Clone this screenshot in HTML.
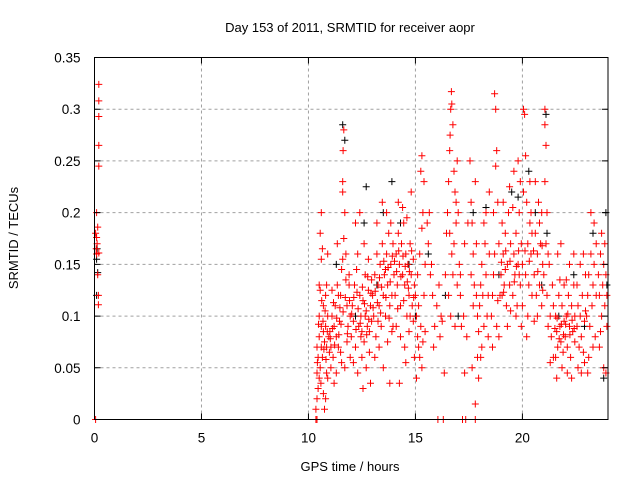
<!DOCTYPE html>
<html><head><meta charset="utf-8"><style>
body{margin:0;background:#fff}
svg{display:block;font-family:"Liberation Sans",sans-serif}
</style></head><body>
<svg id="chart" width="640" height="480" xmlns="http://www.w3.org/2000/svg">
<rect width="640" height="480" fill="#fff"/>
<g id="grid"></g>
<g id="black"></g>
<g id="red"></g>
<g id="axes"></g>
<text x="350" y="32" text-anchor="middle" font-size="13" fill="#000">Day 153 of 2011, SRMTID for receiver aopr</text>
<text x="350" y="471" text-anchor="middle" font-size="13" fill="#000">GPS time / hours</text>
<text x="18" y="238" text-anchor="middle" font-size="13" fill="#000" transform="rotate(-90 18 238)">SRMTID / TECUs</text>
</svg>
<script>
const xTicks = [0,5,10,15,20];
const yTicks = [0,0.05,0.1,0.15,0.2,0.25,0.3,0.35];
const yTickLabels = ["0","0.05","0.1","0.15","0.2","0.25","0.3","0.35"];
const black = [[0.1,0.155],[0.15,0.142],[0.1,0.12],[0.12,0.165],[11.6,0.285],[11.7,0.27],[12.7,0.225],[12.6,0.19],[13.9,0.23],[13.5,0.2],[14.3,0.19],[15.0,0.1],[15.6,0.16],[16.4,0.12],[17.0,0.1],[17.7,0.2],[18.3,0.205],[19.5,0.22],[19.8,0.215],[20.3,0.24],[20.6,0.2],[21.1,0.295],[21.15,0.18],[21.7,0.1],[22.4,0.14],[22.9,0.09],[23.3,0.18],[23.8,0.04],[23.9,0.2],[23.95,0.13],[11.3,0.15],[12.2,0.1],[13.2,0.13],[14.7,0.15],[18.9,0.14],[20.9,0.13]];
const red = [[0.05,0.0],[0.1,0.2],[0.15,0.186],[0.1,0.176],[0.12,0.17],[0.08,0.165],[0.1,0.16],[0.2,0.161],[0.15,0.14],[0.18,0.12],[0.18,0.111],[0.2,0.245],[0.2,0.265],[0.2,0.293],[0.2,0.308],[0.2,0.324],[0.05,0.18],
[10.35,0.0],[10.4,0.0],[10.35,0.01],[10.4,0.02],[10.45,0.03],[10.4,0.045],[10.5,0.04],[10.45,0.06],[10.55,0.05],[10.6,0.07],[10.5,0.08],[10.4,0.07],[10.6,0.09],[10.5,0.1],[10.7,0.085],[10.65,0.06],[10.75,0.075],[10.8,0.09],[10.85,0.07],[10.7,0.11],[10.9,0.1],[10.8,0.12],[10.5,0.13],[10.55,0.18],[10.6,0.2],[10.6,0.155],[10.9,0.16],[10.7,0.025],[10.75,0.01],[10.8,0.02],[10.85,0.045],[10.95,0.08],[10.55,0.125],[10.65,0.165],[10.85,0.13],[10.9,0.04],
[10.42,0.055],[10.58,0.035],[10.68,0.095],[10.78,0.105],[10.88,0.085],[10.98,0.065],[10.62,0.115],[10.72,0.068],[10.82,0.058],[10.47,0.092],
[11.0,0.085],[11.05,0.07],[11.1,0.1],[11.15,0.06],[11.2,0.09],[11.25,0.11],[11.3,0.08],[11.35,0.13],[11.4,0.07],[11.45,0.095],[11.5,0.12],[11.55,0.145],[11.6,0.155],[11.6,0.23],[11.62,0.26],[11.65,0.28],[11.65,0.175],[11.7,0.2],[11.75,0.16],[11.8,0.11],[11.85,0.09],[11.9,0.13],[11.95,0.1],[11.05,0.05],[11.2,0.035],[11.3,0.045],[11.4,0.12],[11.5,0.065],[11.7,0.05],[11.8,0.075],[11.9,0.14],[11.1,0.125],[11.55,0.055],[11.75,0.135],[11.95,0.06],[11.6,0.22],[11.35,0.17],
[11.02,0.078],[11.12,0.088],[11.22,0.072],[11.32,0.098],[11.42,0.082],[11.52,0.092],[11.62,0.104],[11.72,0.118],[11.82,0.083],[11.92,0.115],[11.17,0.113],[11.47,0.108],
[12.0,0.08],[12.05,0.11],[12.1,0.095],[12.15,0.13],[12.2,0.07],[12.25,0.145],[12.3,0.16],[12.35,0.09],[12.4,0.12],[12.45,0.1],[12.5,0.085],[12.55,0.115],[12.6,0.075],[12.65,0.14],[12.7,0.105],[12.75,0.09],[12.8,0.125],[12.85,0.065],[12.9,0.11],[12.95,0.095],[12.1,0.055],[12.3,0.045],[12.5,0.06],[12.7,0.05],[12.9,0.035],[12.2,0.19],[12.4,0.2],[12.6,0.17],[12.8,0.155],[12.95,0.135],[12.45,0.08],[12.65,0.1],[12.85,0.085],[12.55,0.03],
[12.02,0.102],[12.12,0.118],[12.22,0.087],[12.32,0.107],[12.42,0.093],[12.52,0.128],[12.62,0.112],[12.72,0.082],[12.82,0.097],[12.92,0.122],[12.27,0.123],[12.77,0.138],
[13.0,0.12],[13.05,0.1],[13.1,0.14],[13.15,0.08],[13.2,0.16],[13.25,0.13],[13.3,0.11],[13.35,0.15],[13.4,0.09],[13.45,0.17],[13.5,0.12],[13.55,0.14],[13.6,0.1],[13.65,0.16],[13.7,0.13],[13.75,0.18],[13.8,0.11],[13.85,0.15],[13.9,0.12],[13.95,0.17],[13.1,0.06],[13.3,0.07],[13.5,0.05],[13.7,0.075],[13.9,0.085],[13.2,0.19],[13.45,0.21],[13.65,0.2],[13.85,0.19],[13.25,0.095],[13.6,0.145],[13.8,0.035],[13.95,0.09],
[13.02,0.108],[13.12,0.124],[13.22,0.113],[13.32,0.137],[13.42,0.128],[13.52,0.153],[13.62,0.118],[13.72,0.147],[13.82,0.133],[13.92,0.158],[13.37,0.103],[13.77,0.098],
[14.0,0.14],[14.05,0.12],[14.1,0.16],[14.15,0.13],[14.2,0.18],[14.25,0.15],[14.3,0.11],[14.35,0.17],[14.4,0.14],[14.45,0.19],[14.5,0.13],[14.55,0.16],[14.6,0.1],[14.65,0.15],[14.7,0.12],[14.75,0.17],[14.8,0.14],[14.85,0.11],[14.9,0.155],[14.95,0.13],[14.1,0.09],[14.3,0.08],[14.5,0.07],[14.7,0.085],[14.9,0.095],[14.2,0.21],[14.4,0.205],[14.6,0.195],[14.8,0.22],[14.25,0.035],[14.55,0.055],[14.75,0.1],[14.95,0.06],[14.45,0.115],
[14.02,0.153],[14.12,0.143],[14.22,0.163],[14.32,0.138],[14.42,0.158],[14.52,0.148],[14.62,0.133],[14.72,0.143],[14.82,0.163],[14.92,0.118],[14.17,0.107],[14.67,0.127],
[15.0,0.12],[15.05,0.1],[15.1,0.08],[15.15,0.07],[15.2,0.06],[15.25,0.09],[15.3,0.05],[15.35,0.075],[15.1,0.14],[15.2,0.16],[15.3,0.185],[15.35,0.2],[15.25,0.24],[15.3,0.255],[15.4,0.23],[15.45,0.15],[15.4,0.12],[15.05,0.04],[15.15,0.11],[15.45,0.085],
[15.55,0.19],[15.6,0.17],[15.65,0.2],[15.7,0.14],[15.75,0.15],[15.8,0.12],[15.9,0.09],[16.0,0.11],[16.05,0.0],[16.1,0.13],[16.2,0.1],[16.25,0.095],[16.3,0.0],[16.35,0.045],[16.4,0.14],[16.45,0.18],[16.5,0.2],[15.85,0.07],[16.15,0.08],
[16.55,0.23],[16.6,0.26],[16.62,0.275],[16.65,0.3],[16.68,0.317],[16.7,0.305],[16.75,0.285],[16.8,0.24],[16.85,0.22],[16.9,0.21],[16.6,0.18],[16.7,0.16],[16.75,0.14],[16.8,0.17],[16.9,0.19],[16.95,0.25],[16.55,0.12],[16.65,0.1],[16.85,0.09],[16.95,0.13],
[17.0,0.2],[17.05,0.15],[17.1,0.12],[17.15,0.09],[17.2,0.0],[17.25,0.1],[17.3,0.17],[17.35,0.0],[17.4,0.08],[17.45,0.19],[17.1,0.14],[17.3,0.045],
[17.55,0.25],[17.6,0.21],[17.65,0.19],[17.7,0.16],[17.75,0.13],[17.8,0.015],[17.85,0.12],[17.9,0.1],[17.95,0.085],[17.6,0.14],[17.7,0.11],[17.8,0.23],[17.9,0.06],[17.65,0.05],[17.95,0.04],[17.85,0.17],[17.8,0.0],
[18.0,0.11],[18.05,0.13],[18.1,0.15],[18.15,0.12],[18.2,0.09],[18.25,0.17],[18.3,0.14],[18.35,0.1],[18.4,0.08],[18.45,0.16],[18.1,0.07],[18.3,0.2],[18.45,0.22],[18.2,0.19],[18.4,0.12],[18.05,0.06],
[18.55,0.1],[18.6,0.12],[18.65,0.14],[18.7,0.16],[18.75,0.3],[18.7,0.315],[18.8,0.26],[18.75,0.245],[18.85,0.21],[18.9,0.08],[18.95,0.12],[18.6,0.07],[18.8,0.09],[18.9,0.17],[18.65,0.2],[18.85,0.115],
[19.0,0.14],[19.05,0.12],[19.1,0.16],[19.15,0.13],[19.2,0.18],[19.25,0.11],[19.3,0.15],[19.35,0.2],[19.4,0.13],[19.45,0.17],[19.1,0.21],[19.3,0.09],[19.45,0.105],[19.2,0.145],[19.05,0.19],[19.4,0.225],
[19.55,0.12],[19.6,0.16],[19.65,0.14],[19.7,0.18],[19.75,0.11],[19.8,0.15],[19.85,0.2],[19.9,0.13],[19.95,0.17],[19.6,0.24],[19.8,0.25],[19.9,0.23],[19.7,0.1],[19.95,0.09],[19.55,0.205],[19.85,0.14],
[19.02,0.152],[19.22,0.163],[19.42,0.153],[19.62,0.133],[19.82,0.163],[19.12,0.123],[19.72,0.148],
[20.0,0.15],[20.05,0.3],[20.1,0.295],[20.15,0.255],[20.2,0.21],[20.25,0.17],[20.3,0.13],[20.35,0.19],[20.4,0.16],[20.45,0.12],[20.05,0.22],[20.15,0.14],[20.25,0.1],[20.35,0.23],[20.45,0.18],[20.0,0.11],[20.2,0.08],[20.4,0.2],
[20.55,0.14],[20.6,0.18],[20.65,0.12],[20.7,0.16],[20.75,0.21],[20.8,0.13],[20.85,0.17],[20.9,0.11],[20.95,0.15],[20.6,0.23],[20.8,0.19],[20.9,0.2],[20.7,0.1],[20.95,0.125],[20.55,0.095],
[20.12,0.163],[20.32,0.153],[20.52,0.163],[20.72,0.143],[20.92,0.168],
[21.0,0.14],[21.05,0.3],[21.05,0.285],[21.1,0.265],[21.05,0.23],[21.1,0.17],[21.15,0.12],[21.2,0.09],[21.25,0.15],[21.3,0.1],[21.35,0.08],[21.4,0.13],[21.45,0.06],[21.15,0.2],[21.3,0.055],[21.45,0.11],[21.2,0.16],
[21.55,0.1],[21.6,0.085],[21.65,0.07],[21.7,0.12],[21.75,0.09],[21.8,0.075],[21.85,0.11],[21.9,0.065],[21.95,0.095],[21.6,0.04],[21.75,0.135],[21.85,0.05],[21.95,0.13],[21.65,0.16],[21.8,0.17],[21.55,0.06],
[21.52,0.088],[21.62,0.098],[21.72,0.078],[21.82,0.092],[21.92,0.082],
[22.0,0.08],[22.05,0.1],[22.1,0.07],[22.15,0.12],[22.2,0.09],[22.25,0.06],[22.3,0.11],[22.35,0.085],[22.4,0.13],[22.45,0.075],[22.1,0.045],[22.3,0.04],[22.45,0.1],[22.2,0.15],[22.4,0.16],[22.05,0.135],
[22.02,0.092],[22.12,0.102],[22.22,0.082],[22.32,0.096],[22.42,0.088],
[22.55,0.09],[22.6,0.11],[22.65,0.07],[22.7,0.1],[22.75,0.08],[22.8,0.12],[22.85,0.065],[22.9,0.095],[22.95,0.14],[22.6,0.05],[22.75,0.045],[22.9,0.055],[22.7,0.15],[22.85,0.16],[22.55,0.13],[22.95,0.105],
[23.0,0.1],[23.05,0.12],[23.1,0.14],[23.15,0.09],[23.2,0.16],[23.25,0.11],[23.3,0.13],[23.35,0.15],[23.4,0.08],[23.45,0.12],[23.1,0.06],[23.3,0.07],[23.45,0.17],[23.2,0.2],[23.35,0.19],[23.05,0.045],
[23.55,0.14],[23.6,0.12],[23.65,0.16],[23.7,0.1],[23.75,0.13],[23.8,0.15],[23.85,0.11],[23.9,0.14],[23.95,0.12],[23.6,0.07],[23.8,0.05],[23.9,0.045],[23.7,0.18],[23.85,0.17],[23.95,0.09],[23.65,0.085]];

const X0=94.5, X1=608, Y0=419.5, Y1=57.5, XMAX=24, YMAX=0.35;
function sx(t){return X0+(t/XMAX)*(X1-X0);}
function sy(v){return Y0-(v/YMAX)*(Y0-Y1);}
const NS='http://www.w3.org/2000/svg';
function mk(tag,attrs,parent){const e=document.createElementNS(NS,tag);for(const k in attrs)e.setAttribute(k,attrs[k]);parent.appendChild(e);return e;}
const grid=document.getElementById('grid'), axes=document.getElementById('axes');
xTicks.forEach(t=>{
  if(t>0){const g=mk('line',{x1:sx(t),x2:sx(t),y1:Y0,y2:Y1,stroke:'#a0a0a0','stroke-dasharray':'3,3'},grid);
  
  }
  const tk=mk('path',{d:`M${sx(t)},${Y0}v-6M${sx(t)},${Y1}v6`,stroke:'#000'},axes);
  
  
  const lb=mk('text',{x:sx(t),y:Y0+23,'text-anchor':'middle','font-size':'13.5',fill:'#000'},axes);
  lb.textContent=String(t);
  
  
});
yTicks.forEach((v,i)=>{
  if(v>0&&v<YMAX){const g=mk('line',{x1:X0,x2:X1,y1:sy(v),y2:sy(v),stroke:'#a0a0a0','stroke-dasharray':'3,3'},grid);
  
  }
  const tk=mk('path',{d:`M${X0},${sy(v)}h6M${X1},${sy(v)}h-6`,stroke:'#000'},axes);
  
  
  const lb=mk('text',{x:X0-14,y:sy(v)+5,'text-anchor':'end','font-size':'13.5',fill:'#000'},axes);
  lb.textContent=yTickLabels[i];
  
  
});
const frame=mk('rect',{x:X0,y:Y1,width:X1-X0,height:Y0-Y1,fill:'none',stroke:'#000'},axes);


function plot(pts,id,color){
  const g=document.getElementById(id);let d='';
  pts.forEach(p=>{const x=sx(p[0]),y=sy(p[1]);d+=`M${(x-3.5).toFixed(1)},${y.toFixed(1)}h7M${x.toFixed(1)},${(y-3.5).toFixed(1)}v7`;});
  const path=mk('path',{d:d,stroke:color,'stroke-width':'1',fill:'none'},g);
  
  
}
plot(black,'black','#000');
plot(red,'red','#ff0000');
</script>
</body></html>
